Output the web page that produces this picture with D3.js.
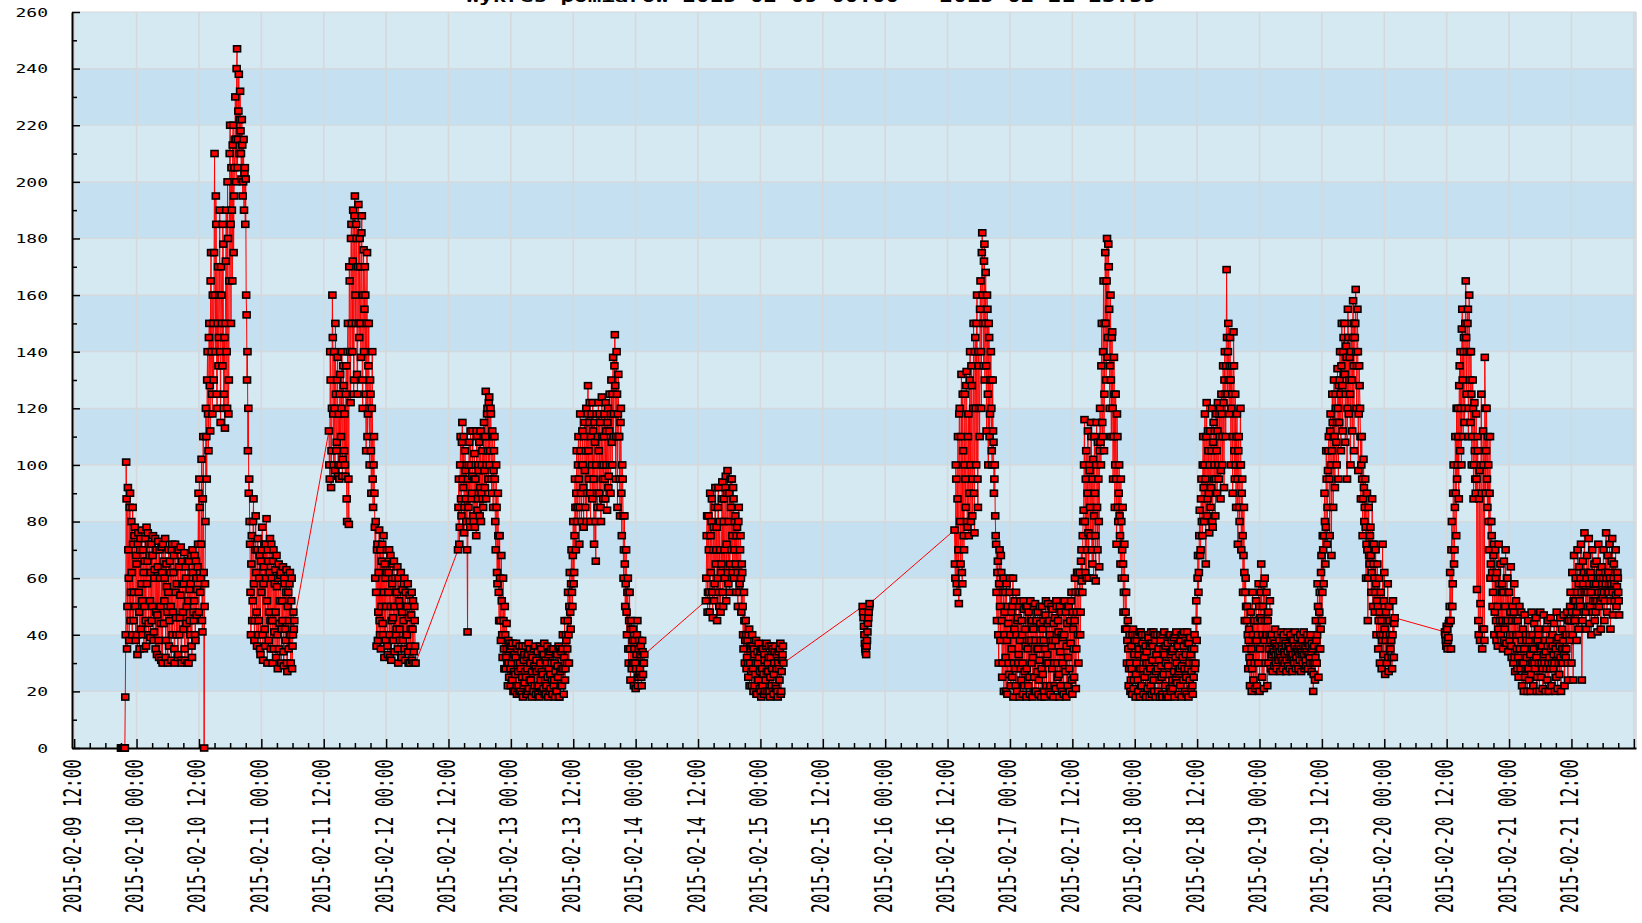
<!DOCTYPE html>
<html><head><meta charset="utf-8">
<script src="https://cdn.jsdelivr.net/npm/d3@7"></script>
<style>body{margin:0;background:#fff}svg{display:block}text{font-family:"DejaVu Sans Mono",monospace;fill:#000}</style>
</head><body><svg id="c" width="1642" height="923"></svg>
<script>
// ---------------- data ----------------
const yTickValues=[0,20,40,60,80,100,120,140,160,180,200,220,240,260];
const xTickLabels=["2015-02-09 12:00","2015-02-10 00:00","2015-02-10 12:00","2015-02-11 00:00","2015-02-11 12:00","2015-02-12 00:00","2015-02-12 12:00","2015-02-13 00:00","2015-02-13 12:00","2015-02-14 00:00","2015-02-14 12:00","2015-02-15 00:00","2015-02-15 12:00","2015-02-16 00:00","2015-02-16 12:00","2015-02-17 00:00","2015-02-17 12:00","2015-02-18 00:00","2015-02-18 12:00","2015-02-19 00:00","2015-02-19 12:00","2015-02-20 00:00","2015-02-20 12:00","2015-02-21 00:00","2015-02-21 12:00"];
const titleText="Wykres pomiarów 2015-02-09 00:00 - 2015-02-21 23:59";
const segmentStarts=["2015-02-09 21:00","2015-02-11 13:00","2015-02-12 13:50","2015-02-14 13:30","2015-02-15 19:40","2015-02-16 13:20","2015-02-20 11:40"];
const stepMinutes=10;
const offsetMinutes=5;
// readings at the segment start times
const seriesA=[0,0,0,0,0,18,
101,35,92,60,85,45, 80,40,72,55,78,38, 65,33,76,48,70,42, 77,40,62,50,74,36,
58,76,44,68,39,72, 50,75,41,63,35,70, 47,73,32,60,44,71, 30,66,52,74,38,57,
30,70,45,62,31,72, 48,68,30,55,40,70, 33,64,46,71,30,58, 42,69,31,60,50,66,
30,56,40,68,32,62, 45,68,38,60,56,72, 48,85,60,102,41,110, 0,58,120,95,140,105,
150,112,175,125,160,130, 210,140,185,120,170,145, 190,115,160,135,178,125,
113,172,140,200,118,165, 220,150,190,213,175,205, 230,200,247,215,238,222,
218,201,213,200,190,205, 201,153,140,120,95,72, 40,75,52,88,38,70,
62,36,74,45,68,33, 55,78,31,64,42,72, 81,30,66,48,74,35, 60,30,70,41,63,32,
57,28,65,44,61,30, 52,64,29,58,38,63, 27,55,45,62,30,60, 36,48,45];
const seriesB=[112,95,130,105,160,118, 140,98,125,108,138,100, 95,132,110,140,102,128,
118,96,135,80,150,79, 165,122,185,140,190,130, 195,150,180,125,192,145,
170,138,188,120,176,155, 160,105,175,118,150,100, 125,90,140,85,110,78,
80,36,72,48,77,40, 35,66,44,75,32,60, 50,70,33,62,40,68, 31,58,46,66,34,55,
42,64,30,52,38,62, 32,56,45,60,31,50, 40,58,30,54,36,47, 31,52,34,45,30];
const seriesC=[70,95,78,110,82,115, 92,76,105,88,100,41, 85,108,78,100,90,112,
80,104,95,75,110,88, 98,82,112,90,105,85, 115,92,126,100,120,95,
124,105,118,90,110,98, 110,80,100,62,90,55, 75,45,68,40,60,35,
50,28,44,30,38,25, 35,22,30,37,20,33, 26,37,19,30,22,36, 20,34,25,18,31,23,
36,19,28,33,21,35, 24,18,32,20,29,36, 19,27,34,22,18,30, 35,20,26,33,19,31,
22,36,18,28,34,21, 30,19,35,24,18,33, 20,29,36,18,27,34, 22,40,19,45,28,38,
35,55,30,62,42,70, 50,80,62,95,70,105, 85,110,72,118,90,100,
100,78,115,85,120,90, 128,95,122,80,118,88, 112,72,108,66,118,85,
122,90,115,80,124,95, 100,118,88,112,84,120, 96,125,90,130,100,138,
118,146,95,140,85,132, 110,82,120,75,95,60, 82,50,70,40,60,30,
55,24,45,30,42,22, 38,21,33,45,25,38, 28,36,22,34,30,33];
const seriesD=[52,75,48,82,55,90, 62,88,46,78,58,92, 70,45,85,55,80,48,
65,94,50,88,60,96, 72,98,58,90,65,85, 95,62,88,70,82,55, 78,50,85,58,75,48,
62,40,55,30,45,28, 38,25,42,30,35,22, 36,20,33,26,38,19, 30,37,21,34,18,28,
35,19,31,24,37,20, 27,36,18,32,22,35, 19,30,36,21,33,18, 34,24,37,20,31,36];
const seriesE=[50,46,40,35,33,38,44,48,51];
const seriesF=[77,60,95,55,110,51, 120,65,132,58,105,70, 125,85,133,78,118,90,
140,80,128,95,150,76, 145,100,160,85,135,110, 165,120,182,150,172,130,
168,112,155,100,145,118, 140,105,130,108,95,82, 72,45,66,30,70,38,
62,25,55,20,48,32, 58,19,44,26,60,22, 35,50,18,42,28,55, 20,46,33,18,52,24,
40,19,49,27,36,18, 50,22,38,19,45,30, 18,42,25,51,20,35, 48,19,31,44,18,50,
26,38,18,47,22,33, 51,20,40,19,36,49, 18,30,46,21,50,25, 41,18,34,48,20,39,
19,52,27,18,44,32, 50,20,37,55,19,42, 25,60,21,48,62,30, 55,40,66,59,75,84,
116,62,105,70,112,60, 98,75,110,65,102,82, 90,59,115,70,95,64,
120,100,150,110,165,125, 175,130,180,145,170,120, 160,110,147,95,138,85,
125,72,110,80,100,75, 95,60,85,48,72,42, 55,30,45,22,40,20,
36,19,42,24,38,18, 30,40,20,35,18,41, 22,37,19,32,40,18, 34,21,39,18,28,41,
19,36,24,40,18,33, 40,20,31,18,38,25, 18,35,41,22,30,19, 37,18,26,40,20,34,
21,39,18,32,41,23, 36,19,28,38,18,40, 24,41,20,33,19,37, 18,30,39,21,35,19,
25,40,30,52,45,68, 62,84,70,95,75,110, 80,118,65,122,88,105, 76,112,92,120,78,115,
100,82,118,90,122,95, 110,88,125,100,135,92, 140,110,169,125,150,118,
145,100,135,90,147,105, 125,85,118,72,110,80, 120,70,95,55,85,45, 60,35,50,28,42,22,
48,20,55,24,45,21, 52,22,40,58,20,46, 65,25,50,21,60,30, 55,22,48,35,52,28,
40,27,38,29,42,30, 28,40,31,38,27,41, 35,28,40,30,37,27, 41,29,36,28,40,32,
27,38,30,41,28,35, 39,28,33,40,27,38, 30,41,28,36,29,40, 28,38,32,40,27,35,
20,36,24,45,30,58, 25,48,35,62,45,75, 58,90,65,105,72,98, 110,75,118,68,125,85,
130,92,120,100,134,95, 115,140,105,150,112,145, 150,108,142,95,155,118,
138,100,150,112,158,105, 145,162,120,155,98,135, 120,88,110,75,102,80,
95,60,90,45,85,65, 78,55,88,50,72,48, 70,40,65,35,60,30, 55,28,72,33,62,26,
48,30,58,27,45,35, 38,28,52,32,46];
const seriesG=[41,38,43,35,39,45, 62,35,80,58,100,70, 110,75,95,120,88,135,
140,100,155,110,145,120, 165,125,150,110,160,130, 140,100,130,88,122,95,
118,56,105,40,98,51, 125,35,112,42,138,90, 120,85,100,70,110,65,
75,50,68,40,70,45, 62,36,72,40,65,38, 58,35,66,42,70,37, 60,34,55,40,64,32,
50,30,58,27,52,35, 45,25,50,30,48,22, 42,20,47,28,38,20, 45,24,40,20,48,30,
22,44,28,46,20,38, 40,20,48,25,36,21, 47,30,20,42,24,45, 20,38,46,22,40,28,
44,20,35,48,21,39, 26,46,20,42,30,47, 22,40,35,48,24,45, 38,55,30,62,24,68,
45,60,38,70,42,64, 50,72,24,66,48,76, 55,42,68,50,74,44, 62,40,70,52,58,45,
48,66,41,72,50,60, 42,64,53,70,45,62, 76,48,68,55,72,42, 58,74,47,65,52,70,
50,62,55,47];
// readings taken 5 minutes after each of the above
const seriesA2=[0,0,0,0,0,40,
88,50,70,38,90,55, 62,85,45,75,50,68, 40,72,55,35,74,58, 52,70,35,66,45,78,
66,40,72,52,62,45, 68,38,60,74,48,33, 64,38,70,50,31,62, 72,44,60,32,65,48,
55,36,66,50,70,40, 62,35,72,46,58,32, 70,40,54,31,66,48, 58,35,64,44,30,52,
66,45,58,36,70,48, 52,40,66,47,64,90, 95,55,72,45,88,62, 50,80,110,130,118,145,
128,165,140,118,150,175, 160,195,125,150,135,160, 140,170,150,185,120,145,
150,190,120,180,130,210, 185,205,165,220,195,215, 215,240,205,225,210,232,
210,222,195,215,203,185, 160,130,105,90,80,55, 65,45,80,58,45,82,
48,70,40,60,35,66, 70,40,58,72,36,60, 52,70,38,62,45,72, 45,66,35,58,48,68,
40,60,35,52,62,42, 45,34,60,42,55,30, 50,35,58,40,52,28, 40,42];
const seriesB2=[100,140,92,120,145,100, 120,150,105,130,96,118, 125,100,120,96,135,105,
100,125,88,140,95,170, 140,180,150,172,125,188, 160,185,132,170,150,180,
150,182,130,160,140,170, 125,150,110,135,120,130, 105,120,95,100,90,60,
55,70,38,62,45,70, 50,72,40,55,65,38, 62,36,55,70,32,50, 45,65,38,50,60,40,
55,35,60,42,50,32, 48,38,58,35,55,40, 50,34,46,30,42,55, 42,30,50,36];
const seriesC2=[85,72,100,88,108,95, 110,85,98,80,70,95, 100,80,112,88,96,82,
95,78,100,112,84,100, 108,92,80,100,88,110, 98,110,88,118,105,122,
100,120,95,112,85,105, 95,70,85,58,75,45, 60,38,52,32,45,28,
40,32,35,22,30,37, 28,36,24,32,27,20, 32,22,35,27,19,30, 28,19,36,22,33,27,
25,32,20,37,24,30, 33,27,20,35,22,28, 31,22,19,28,36,24, 27,33,21,37,24,19,
30,25,33,20,26,35, 24,35,22,30,27,20, 33,25,18,35,22,28, 35,28,32,24,40,30,
45,40,50,48,58,55, 68,58,75,85,90,80, 100,95,85,105,80,112,
92,110,98,105,80,118, 105,115,90,110,100,122, 95,115,80,100,90,110,
105,118,85,100,110,88, 110,95,122,100,115,92, 112,100,118,108,125,110,
135,128,110,125,118,110, 95,115,90,100,82,70, 65,58,48,55,35,45,
35,42,28,38,30,35, 30,28,40,22,35,26, 33,25,38,26,30];
const seriesD2=[60,82,55,70,48,75, 80,55,70,52,85,65, 78,60,92,50,70,62,
88,55,80,70,92,52, 90,62,80,55,95,70, 75,92,60,80,65,75, 62,80,55,70,60,65,
50,35,45,38,40,32, 30,40,22,36,27,40, 28,35,22,30,19,34, 24,32,27,20,35,22,
26,33,20,36,27,30, 32,20,25,36,28,20, 26,34,22,28,20,30, 28,35,19,27,33,30];
const seriesE2=[48,43,37,34,36,41,46,50];
const seriesF2=[65,100,58,88,70,118, 80,110,62,125,75,100, 95,128,80,110,75,130,
100,135,82,120,90,140, 120,150,95,140,120,155, 140,175,160,135,178,150,
135,160,125,150,110,130, 120,100,112,90,100,75, 55,62,40,58,50,68,
45,30,60,40,55,20, 38,50,30,55,40,48, 25,60,30,52,22,40, 45,30,50,38,28,45,
30,52,22,42,50,28, 35,48,25,52,38,45, 32,50,20,38,45,27, 35,24,50,38,28,42,
45,20,35,52,30,44, 30,45,22,50,28,38, 44,22,38,52,30,45, 26,50,22,40,30,52,
40,28,48,36,22,50, 28,45,52,24,48,35, 45,55,35,62,40,55, 62,48,70,55,80,100,
80,95,60,90,76,100, 85,115,70,95,60,110, 75,100,85,108,80,105,
108,135,115,140,105,150, 150,165,138,178,155,135, 130,145,120,110,125,100,
95,118,85,90,82,65, 80,70,65,55,60,48, 42,38,35,28,30,24,
28,40,21,33,40,26, 38,24,33,41,28,22, 40,28,35,25,36,30, 27,40,30,36,22,37,
31,41,20,38,27,40, 28,35,24,40,29,19, 40,26,33,36,18,38, 29,40,21,33,38,24,
35,27,40,24,30,36, 27,33,22,40,29,32, 36,28,38,25,41,28, 37,24,33,27,22,30,
35,28,45,38,60,55, 75,68,88,80,100,92, 100,95,110,82,112,90, 100,85,105,80,108,95,
112,95,105,112,100,118, 120,98,118,110,122,130, 125,135,145,140,130,135,
130,120,125,110,135,95, 100,110,95,105,85,100, 100,90,75,68,62,55, 50,45,40,38,32,30,
35,28,40,45,30,38, 38,45,30,50,35,55, 45,40,58,38,45,40, 40,45,30,40,38,33,
33,35,34,37,33,36, 35,33,36,34,32,36, 31,38,34,33,36,31, 34,36,32,35,33,38,
33,31,36,34,32,30, 34,36,31,35,34,33, 36,33,35,31,34,37, 33,36,30,34,37,30,
26,30,32,38,40,50, 35,55,42,68,55,70, 75,80,78,95,85,105, 95,112,100,105,115,110,
110,125,108,115,120,128, 130,125,135,128,140,132, 132,125,138,120,145,130,
125,140,130,145,135,150, 150,140,135,140,118,128, 110,100,95,88,92,85,
78,72,70,60,68,75, 68,62,72,65,60,55, 58,52,50,45,48,40, 45,38,40,52,42,38,
40,45,32,50,40,38, 32,40,45,44];
const seriesG2=[40,36,42,38,44,50, 45,70,50,90,65,85, 90,120,100,110,128,105,
120,148,130,140,115,150, 145,140,155,120,140,115, 125,110,120,100,105,90,
95,110,45,88,38,100, 90,42,100,38,120,105, 95,110,80,90,60,80,
62,55,72,48,60,38, 50,42,58,45,40,55, 45,55,38,50,45,60, 45,55,38,48,36,45,
40,48,32,45,40,28, 32,40,35,28,38,30, 30,35,25,40,32,28, 28,38,33,26,35,40,
35,30,38,32,25,42, 30,36,35,30,28,32, 33,38,34,28,36,30, 32,28,35,30,36,33,
30,35,25,38,33,30, 36,32,30,35,38,33, 35,32,40,30,45,40, 50,45,48,40,52,45,
52,48,55,50,58,52, 60,55,45,58,62,55, 48,60,55,62,58,50, 55,60,48,58,65,52,
58,52,60,55,62,52, 55,58,60,55,52,58, 60,55,62,58,60,52, 66,55,60,58,62,54,
57,60,52];
const seriesList=[seriesA,seriesB,seriesC,seriesD,seriesE,seriesF,seriesG];
const seriesList2=[seriesA2,seriesB2,seriesC2,seriesD2,seriesE2,seriesF2,seriesG2];
const xDomain=["2015-02-09 11:35","2015-02-22 00:25"];

// ---------------- chart ----------------
const parse=d3.timeParse("%Y-%m-%d %H:%M");
let points=[];
function addSeries(list,offset){
  list.forEach((vals,i)=>{
    const t0=+parse(segmentStarts[i])+offset*60000;
    vals.forEach((v,j)=>points.push({t:new Date(t0+j*stepMinutes*60000),v:v}));
  });
}
addSeries(seriesList,0);
addSeries(seriesList2,offsetMinutes);
points.sort((a,b)=>a.t-b.t);

const L=72,R=1636,T=12,B=748;
const svg=d3.select("#c");
const x=d3.scaleTime().domain(xDomain.map(parse)).range([L,R]);
const y=d3.scaleLinear().domain([0,260]).range([B,T]);

// bands
const bands=d3.range(0,260,20);
svg.append("g").selectAll("rect").data(bands).join("rect")
  .attr("x",L).attr("width",R-L)
  .attr("y",d=>y(d+20)).attr("height",d=>y(d)-y(d+20))
  .attr("fill",d=>(d/20)%2? "#c5e1f1":"#d5e9f3");

// grid
const majorTimes=x.ticks(d3.timeHour.every(12));
const grid=svg.append("g").attr("stroke","#d6d8da");
grid.selectAll("line.h").data(yTickValues.filter(v=>v>0)).join("line")
  .attr("x1",L).attr("x2",R).attr("y1",d=>y(d)).attr("y2",d=>y(d)).attr("stroke-width",1.2);
grid.selectAll("line.v").data(majorTimes).join("line")
  .attr("x1",d=>x(d)).attr("x2",d=>x(d)).attr("y1",T).attr("y2",B).attr("stroke-width",1.6);
grid.append("line").attr("x1",R).attr("x2",R).attr("y1",T).attr("y2",B).attr("stroke-width",1.6);

// title (cut off at the top, as in the original)
svg.append("text").attr("transform","translate(811,1.5) scale(1.5,1)")
  .attr("text-anchor","middle").attr("font-size",15).attr("font-weight","bold").text(titleText);

// y axis
const yMinor=d3.range(10,260,20);
svg.append("g").attr("transform",`translate(${L},0)`)
  .call(d3.axisLeft(y).tickValues(yMinor).tickSizeInner(-5).tickSizeOuter(0).tickFormat(""))
  .call(g=>{g.select(".domain").remove();g.selectAll("line").attr("stroke","#000").attr("stroke-width",1.5);});
const yAx=svg.append("g").attr("transform",`translate(${L},0)`)
  .call(d3.axisLeft(y).tickValues(yTickValues).tickSizeInner(-8).tickSizeOuter(0).tickFormat(d=>d));
yAx.select(".domain").attr("stroke","#000").attr("stroke-width",2);
yAx.selectAll(".tick line").attr("stroke","#000").attr("stroke-width",1.5);
yAx.selectAll(".tick text").attr("x",null).attr("dy","0.36em")
  .attr("transform","translate(-24,0) scale(1.5,1)")
  .attr("text-anchor","end").attr("font-size",12).attr("font-family","DejaVu Sans Mono, monospace").attr("fill","#000");

// x axis
const minorTimes=x.ticks(d3.timeHour.every(3)).filter(t=>t.getHours()%12!==0);
svg.append("g").attr("transform",`translate(0,${B})`)
  .call(d3.axisBottom(x).tickValues(minorTimes).tickSizeInner(-5).tickSizeOuter(0).tickFormat(""))
  .call(g=>{g.select(".domain").remove();g.selectAll("line").attr("stroke","#000").attr("stroke-width",1.5);});
const xAx=svg.append("g").attr("transform",`translate(0,${B})`)
  .call(d3.axisBottom(x).tickValues(majorTimes).tickSizeInner(-9).tickSizeOuter(0).tickFormat(""));
xAx.select(".domain").attr("stroke","#000").attr("stroke-width",2);
xAx.selectAll(".tick line").attr("stroke","#000").attr("stroke-width",1.5);
svg.append("g").selectAll("text").data(xTickLabels).join("text")
  .attr("transform",d=>`translate(${x(parse(d))+6.5},${B+11}) scale(1.5,1) rotate(-90)`)
  .attr("text-anchor","end").attr("font-size",16).text(d=>d);

// data line + markers
svg.append("path").datum(points)
  .attr("d",d3.line().x(d=>x(d.t)).y(d=>y(d.v)))
  .attr("fill","none").attr("stroke","#ff0000").attr("stroke-width",1);
svg.append("g").selectAll("rect").data(points).join("rect")
  .attr("x",d=>x(d.t)-3.5).attr("y",d=>y(d.v)-3).attr("width",7).attr("height",6)
  .attr("fill","#ff0000").attr("stroke","#000").attr("stroke-width",1.6);
</script></body></html>
